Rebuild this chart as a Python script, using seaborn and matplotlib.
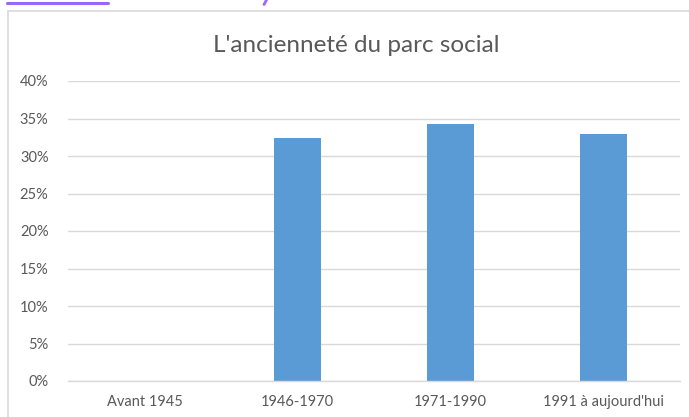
import matplotlib
matplotlib.use("Agg")
import matplotlib.pyplot as plt
import seaborn as sns
import pandas as pd
from matplotlib.patches import Rectangle
from matplotlib.lines import Line2D
from matplotlib.ticker import PercentFormatter

categories = ["Avant 1945", "1946-1970", "1971-1990", "1991 à aujourd'hui"]
values = [0.0, 0.324, 0.343, 0.330]
yticks = [0.0, 0.05, 0.10, 0.15, 0.20, 0.25, 0.30, 0.35, 0.40]
title = "L'ancienneté du parc social"

sns.set_theme(style="white")
plt.rcParams['font.family'] = ['Lato', 'DejaVu Sans']

W, H = 689, 417
fig = plt.figure(figsize=(W / 100, H / 100), dpi=100)
fig.patch.set_facecolor("white")

# chart border
fig.add_artist(Rectangle((7.5 / W, -0.1), 1.0, 1 - 10.5 / H + 0.1,
                         transform=fig.transFigure, fill=False,
                         edgecolor="#d9d9d9", linewidth=1.2))
# cropped hyperlink remnants
fig.add_artist(Line2D([7 / W, 108 / W], [1 - 2.8 / H, 1 - 2.8 / H],
                      transform=fig.transFigure, color="#9966ff", linewidth=2.2))
fig.add_artist(Line2D([266.5 / W, 264 / W], [1 - 0 / H, 1 - 4.5 / H],
                      transform=fig.transFigure, color="#9966ff", linewidth=2.0))

ax = fig.add_axes([68 / W, 1 - 381 / H, (680 - 68) / W, (381 - 81) / H])
df = pd.DataFrame({"cat": categories, "val": values})
sns.barplot(data=df, x="cat", y="val", ax=ax, color="#5B9BD5", width=0.31,
            saturation=1, linewidth=0)

ax.set_ylim(0, 0.40)
ax.set_xlim(-0.5, 3.5)
ax.set_yticks(yticks)
ax.yaxis.set_major_formatter(PercentFormatter(1.0, decimals=0))
ax.grid(axis="y", color="#d9d9d9", linewidth=1)
ax.set_axisbelow(True)
for s in ["top", "right", "left"]:
    ax.spines[s].set_visible(False)
ax.spines["bottom"].set_color("#d9d9d9")
ax.spines["bottom"].set_linewidth(1)
ax.tick_params(axis="both", length=0, labelsize=10.5, labelcolor="#595959")
ax.tick_params(axis="y", pad=14)
ax.tick_params(axis="x", pad=10)
ax.set_xlabel("")
ax.set_ylabel("")
fig.text(356 / W, 1 - 45 / H, title, ha="center", va="center",
         fontsize=17.5, color="#595959")

fig.savefig("out.png", dpi=100)
